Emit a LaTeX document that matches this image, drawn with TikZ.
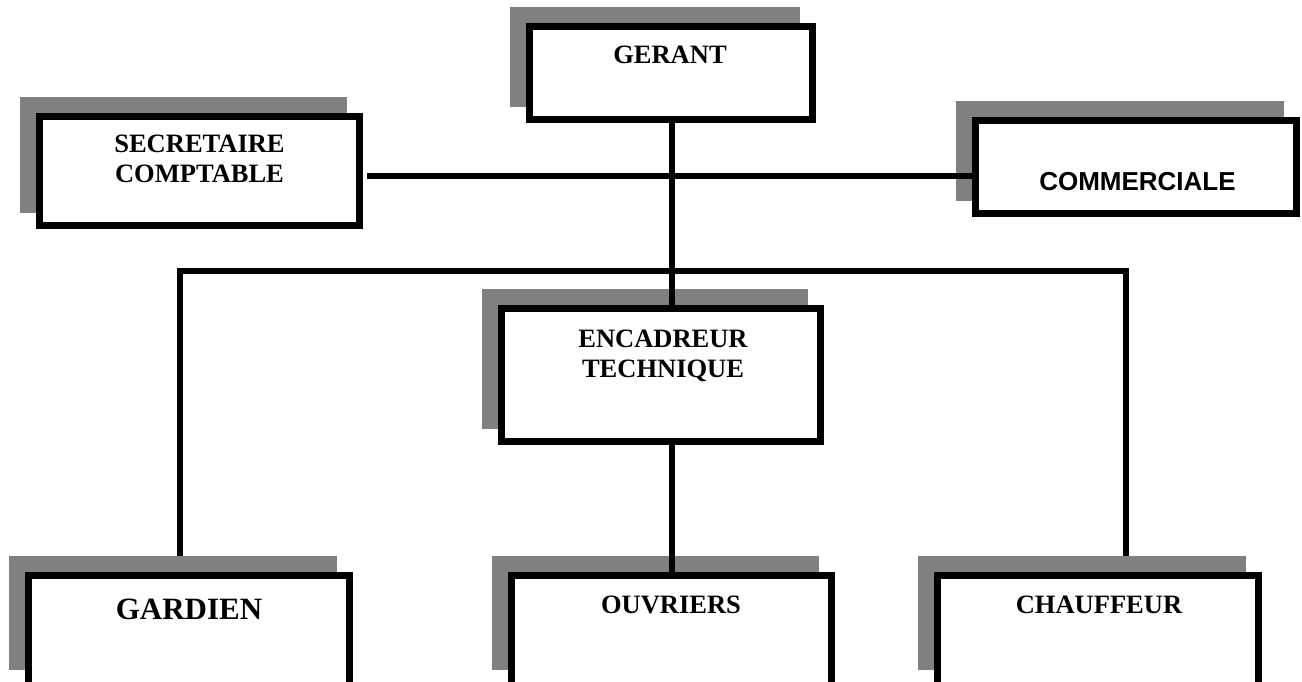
\documentclass[tikz,border=0pt]{standalone}
\usepackage{fontspec}
\setmainfont{Liberation Serif}
\newfontfamily\sansfam{Liberation Sans}
\usetikzlibrary{backgrounds}
\definecolor{shadowgray}{gray}{0.5}
\tikzset{
  orgbox/.style={draw=black, line width=7pt, fill=white, inner sep=0pt},
  boxshadow/.style={fill=shadowgray},
  conn/.style={draw=black, line width=6pt, line join=miter},
  lbl/.style={inner sep=0pt, align=center, font=\fontsize{26.5}{30}\selectfont\bfseries},
  biglbl/.style={inner sep=0pt, font=\fontsize{31}{35}\selectfont\bfseries},
  sanslbl/.style={inner sep=0pt, font=\sansfam\fontsize{26}{30}\selectfont\bfseries}
}
\begin{document}
\begin{tikzpicture}[x=1pt,y=-1pt]
\useasboundingbox (0,0) rectangle (1302,682);
\clip (0,0) rectangle (1302,682);

% boxes (the bottom row runs past the lower edge of the page)
\node[orgbox, minimum width=283pt, minimum height=93pt]  (ger) at (671,73) {};
\node[orgbox, minimum width=320pt, minimum height=109pt] (sec) at (199.5,171) {};
\node[orgbox, minimum width=321pt, minimum height=93pt]  (com) at (1136,167) {};
\node[orgbox, minimum width=319pt, minimum height=133pt] (enc) at (661,375) {};
\node[orgbox, minimum width=321pt, minimum height=115pt] (gar) at (189,633) {};
\node[orgbox, minimum width=320pt, minimum height=115pt] (ouv) at (671.5,633) {};
\node[orgbox, minimum width=321pt, minimum height=115pt] (cha) at (1098,633) {};

% shadows, offset up and to the left
\coordinate (shadowfoot) at (0,670);
\begin{scope}[on background layer]
  \foreach \b in {ger,sec,com,enc}
    \fill[boxshadow] ([shift={(-16,-16)}]\b.south west) rectangle ([shift={(-16,-16)}]\b.north east);
  \foreach \b in {gar,ouv,cha}
    \fill[boxshadow] ([xshift=-16pt]\b.south west |- shadowfoot) rectangle ([shift={(-16,-16)}]\b.north east);
\end{scope}

% labels
\node[lbl, anchor=base]  (gerT) at (670,64) {GERANT};
\node[lbl, anchor=north] (secT) at (199.5,135) {SECRETAIRE\\COMPTABLE};
\node[sanslbl, anchor=base] (comT) at (1137.5,190) {COMMERCIALE};
\node[lbl, anchor=north] (encT) at (663,330) {ENCADREUR\\TECHNIQUE};
\node[biglbl, anchor=base] (garT) at (189,619) {GARDIEN};
\node[lbl, anchor=base]  (ouvT) at (671,613) {OUVRIERS};
\node[lbl, anchor=base]  (chaT) at (1099,613) {CHAUFFEUR};

% connectors
\coordinate (trunk) at (672,0);
\coordinate (hline) at (0,176);
\coordinate (busL) at (180,271);
\coordinate (busR) at (1126,271);
\draw[conn] (ger.south -| trunk) -- (enc.north -| trunk);
\draw[conn] (enc.south -| trunk) -- (ouv.north -| trunk);
\draw[conn, shorten <=4pt] (sec.east |- hline) -- (com.west |- hline);
\draw[conn, shorten <=16pt, shorten >=16pt] (gar.north -| busL) -- (busL) -- (busR) -- (cha.north -| busR);
\end{tikzpicture}
\end{document}
